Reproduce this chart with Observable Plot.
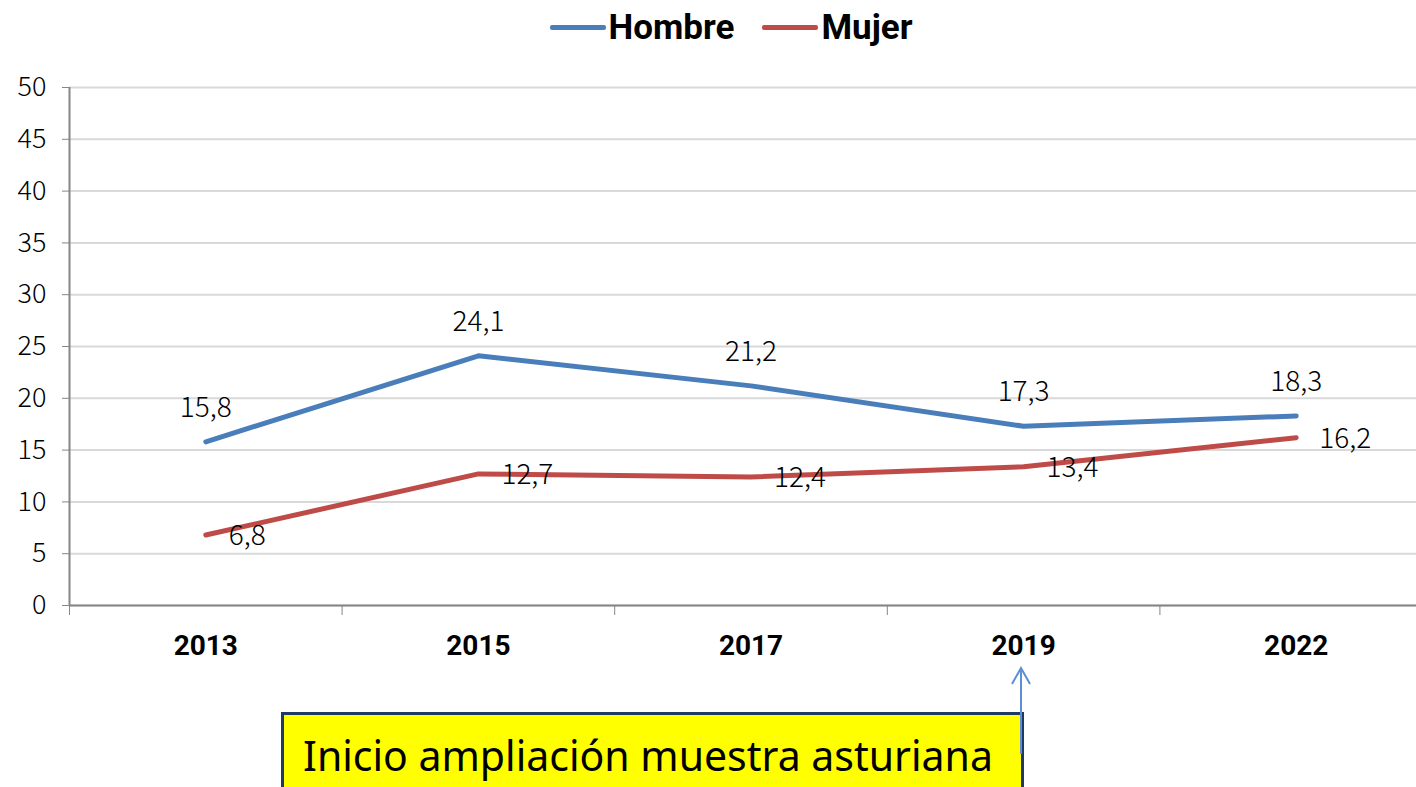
<!DOCTYPE html>
<html>
<head>
<meta charset="utf-8">
<script src="https://cdn.jsdelivr.net/npm/d3@7"></script>
<script src="https://cdn.jsdelivr.net/npm/@observablehq/plot@0.6"></script>
<style>
  html, body { margin: 0; padding: 0; background: #fff; overflow: hidden; width: 1416px; height: 787px; }
  #wrap { position: relative; width: 1416px; height: 787px; }
  #legend { height: 60px; display: flex; justify-content: center; align-items: flex-start; padding-top: 0; font-family: Roboto, "Liberation Sans", sans-serif; font-weight: bold; font-size: 35px; padding-left: 46px; box-sizing: border-box; width: 1416px; }
  .item { display: flex; align-items: center; margin: 0 14px; height: 54px; }
  .sw { width: 56px; height: 5px; border-radius: 2px; margin-right: 3px; }
  #note { position: absolute; left: 281px; top: 712px; width: 743px; height: 90px; background: #ffff00; border: 3px solid #1f3864; box-sizing: border-box; font-family: "Noto Sans", sans-serif; font-size: 41px; line-height: 80px; padding-left: 19px; color: #000; white-space: nowrap; }
  #arrow { position: absolute; left: 1008px; top: 664px; }
</style>
</head>
<body>
<div id="wrap">
  <div id="legend"></div>
  <div id="chart"></div>
  <div id="note">Inicio ampliación muestra asturiana</div>
  <svg id="arrow" width="28" height="100"><path d="M13,4 L13,90 M4,20 L13,4 L22,20" fill="none" stroke="#5b8fd6" stroke-width="2"/></svg>
</div>
<script>
const years = ["2013", "2015", "2017", "2019", "2022"];
const hombre = [15.8, 24.1, 21.2, 17.3, 18.3];
const mujer = [6.8, 12.7, 12.4, 13.4, 16.2];
const seriesNames = ["Hombre", "Mujer"];
const seriesColors = ["#4a7ebb", "#be4b48"];
const yTicks = [0, 5, 10, 15, 20, 25, 30, 35, 40, 45, 50];

const data = [];
years.forEach((y, i) => {
  data.push({i, year: y, series: "Hombre", v: hombre[i]});
  data.push({i, year: y, series: "Mujer", v: mujer[i]});
});
const fmt = v => v.toFixed(1).replace(".", ",");

// legend
const legend = document.getElementById("legend");
seriesNames.forEach((n, k) => {
  const it = document.createElement("div");
  it.className = "item";
  it.innerHTML = `<span class="sw" style="background:${seriesColors[k]}"></span><span>${n}</span>`;
  legend.appendChild(it);
});

const boundaries = d3.range(years.length).map(i => i - 0.5);
const centers = d3.range(years.length);
const lightFont = "'Noto Sans CJK JP', 'Noto Sans', sans-serif";

const chart = Plot.plot({
  width: 1416,
  height: 727,
  marginLeft: 69,
  marginRight: -16,
  marginTop: 27,
  marginBottom: 182,
  style: {fontFamily: lightFont, background: "transparent"},
  x: {domain: [-0.5, years.length - 0.5], axis: null},
  y: {domain: [0, 50], axis: null},
  color: {domain: seriesNames, range: seriesColors},
  marks: [
    Plot.gridY(yTicks, {stroke: "#d9d9d9", strokeOpacity: 1, strokeWidth: 2}),
    Plot.axisY({ticks: yTicks, label: null, tickSize: 7, tickPadding: 16, fontSize: 27, fontWeight: 300, fontFamily: lightFont, stroke: "#868686", color: "#000", tickFormat: d => String(d)}),
    Plot.axisX({ticks: boundaries, label: null, tickSize: 10, tickFormat: () => "", stroke: "#868686"}),
    Plot.axisX({ticks: centers, label: null, tickSize: 0, tickPadding: 30, tickFormat: i => years[i], fontSize: 28, fontWeight: "bold", fontFamily: "Roboto, sans-serif", color: "#000"}),
    Plot.ruleX([-0.5], {stroke: "#868686", strokeWidth: 2}),
    Plot.ruleY([0], {stroke: "#868686", strokeWidth: 2}),
    Plot.line(data, {x: "i", y: "v", z: "series", stroke: "series", strokeWidth: 5, strokeLinejoin: "round", strokeLinecap: "round"}),
    Plot.text(data.filter(d => d.series === "Hombre"), {x: "i", y: "v", text: d => fmt(d.v), dy: -34, fontSize: 28, fontWeight: 300, fontFamily: lightFont, fill: "#000"}),
    Plot.text(data.filter(d => d.series === "Mujer"), {x: "i", y: "v", text: d => fmt(d.v), dx: 23, dy: 1, textAnchor: "start", fontSize: 28, fontWeight: 300, fontFamily: lightFont, fill: "#000"})
  ]
});
document.getElementById("chart").appendChild(chart);
</script>
</body>
</html>
